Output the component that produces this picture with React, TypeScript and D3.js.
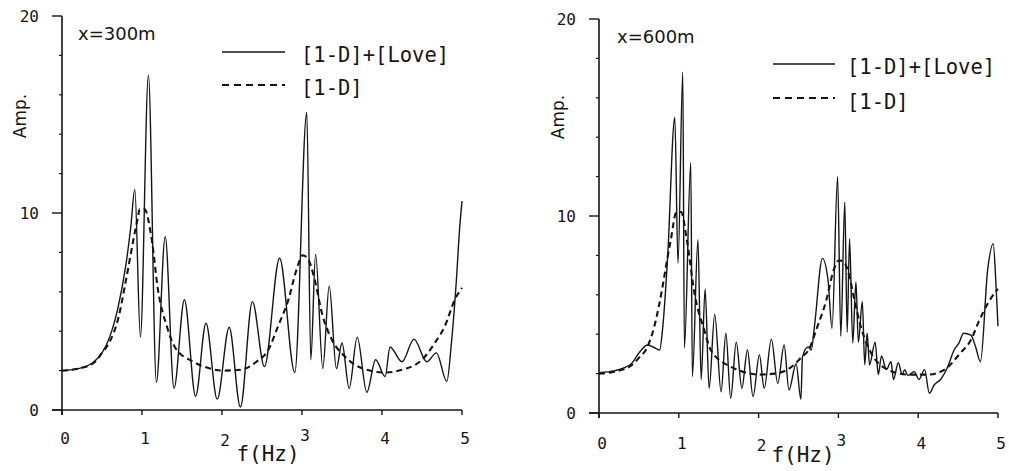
import React from "react";
import * as d3 from "d3";

// amplitude spectra, [f (Hz), amp]
const love300: [number, number][] = [
  [0, 2.0], [0.2, 2.1], [0.4, 2.45], [0.5, 2.9], [0.6, 3.75], [0.7, 5.2], [0.8, 7.4],
  [0.86, 9.3], [0.91, 11.2], [0.98, 3.7], [1.08, 17.0], [1.18, 1.4], [1.29, 8.8],
  [1.4, 1.1], [1.53, 5.6], [1.67, 0.7], [1.8, 4.4], [1.94, 0.55], [2.09, 4.2],
  [2.23, 0.15], [2.38, 5.5], [2.53, 2.2], [2.72, 7.7], [2.91, 1.9], [3.06, 15.1],
  [3.11, 2.55], [3.17, 7.9], [3.26, 2.1], [3.34, 6.3], [3.43, 2.1], [3.5, 3.4],
  [3.59, 1.1], [3.69, 3.7], [3.81, 0.9], [3.92, 2.55], [4.04, 1.7], [4.1, 3.2],
  [4.25, 2.45], [4.4, 3.6], [4.56, 2.45], [4.68, 2.9], [4.81, 1.45], [4.87, 3.5],
  [4.93, 6.6], [4.97, 9.2], [5.0, 10.6],
];

const oneD300: [number, number][] = [
  [0, 2.0], [0.2, 2.1], [0.4, 2.4], [0.5, 2.9], [0.6, 3.5], [0.7, 4.6], [0.8, 6.6],
  [0.9, 8.8], [0.95, 9.8], [0.97, 10.2], [1.03, 10.2], [1.12, 8.7], [1.2, 6.1],
  [1.31, 4.25], [1.41, 3.2], [1.64, 2.45], [1.83, 2.13], [2.0, 2.0], [2.23, 2.04],
  [2.43, 2.45], [2.58, 3.06], [2.7, 4.25], [2.83, 5.6], [2.93, 7.1], [3.01, 7.85],
  [3.07, 7.7], [3.16, 6.6], [3.25, 4.9], [3.37, 3.6], [3.54, 2.7], [3.75, 2.12],
  [4.04, 1.9], [4.25, 2.04], [4.5, 2.55], [4.66, 3.4], [4.79, 4.3], [4.91, 5.6],
  [5.0, 6.2],
];

const love600: [number, number][] = [
  [0, 2.05], [0.2, 2.15], [0.405, 2.5], [0.51, 3.1], [0.61, 3.45], [0.68, 3.35],
  [0.76, 3.2], [0.8, 4.4], [0.86, 7.9], [0.95, 15.0], [0.99, 7.6], [1.05, 17.3],
  [1.07, 3.3], [1.15, 12.7], [1.17, 1.85], [1.24, 8.8], [1.28, 1.7], [1.33, 6.3],
  [1.38, 1.25], [1.45, 5.0], [1.53, 1.08], [1.59, 4.05], [1.65, 0.75], [1.72, 3.6],
  [1.79, 1.25], [1.86, 3.2], [1.93, 0.83], [2.01, 2.95], [2.07, 1.25], [2.16, 3.75],
  [2.24, 1.5], [2.32, 3.45], [2.38, 1.17], [2.47, 2.5], [2.53, 0.7], [2.55, 2.85],
  [2.62, 3.35], [2.66, 3.2], [2.7, 4.4], [2.8, 7.85], [2.87, 6.75], [2.92, 4.3],
  [2.99, 12.0], [3.03, 3.9], [3.08, 10.7], [3.11, 4.1], [3.14, 8.85], [3.18, 3.55],
  [3.22, 6.65], [3.25, 3.6], [3.3, 5.65], [3.33, 2.45], [3.36, 4.05], [3.39, 2.45],
  [3.46, 3.6], [3.5, 1.95], [3.54, 2.9], [3.6, 2.2], [3.66, 2.6], [3.69, 1.7],
  [3.75, 2.55], [3.8, 1.95], [3.83, 2.2], [3.87, 1.9], [3.95, 2.1], [4.01, 1.7],
  [4.08, 2.2], [4.14, 1.0], [4.2, 1.42], [4.28, 1.7], [4.37, 2.35], [4.45, 3.2],
  [4.51, 3.55], [4.57, 4.05], [4.66, 3.95], [4.72, 3.35], [4.78, 2.6], [4.87, 7.25],
  [4.94, 8.6], [4.975, 6.5], [5.0, 4.4],
];

const oneD600: [number, number][] = [
  [0, 2.0], [0.2, 2.1], [0.4, 2.4], [0.5, 2.8], [0.6, 3.3], [0.7, 4.5], [0.8, 6.5],
  [0.85, 7.7], [0.9, 8.8], [0.97, 10.2], [1.03, 10.2], [1.1, 8.8], [1.2, 6.0],
  [1.32, 4.2], [1.4, 3.2], [1.65, 2.35], [1.8, 2.1], [2.0, 1.95], [2.2, 2.0],
  [2.4, 2.3], [2.53, 2.8], [2.64, 3.3], [2.72, 4.2], [2.85, 5.75], [2.94, 7.25],
  [3.01, 7.75], [3.08, 7.6], [3.14, 6.9], [3.2, 5.75], [3.28, 4.4], [3.41, 3.05],
  [3.62, 2.2], [3.87, 1.95], [4.12, 1.95], [4.33, 2.2], [4.53, 3.05], [4.66, 3.7],
  [4.76, 4.65], [4.87, 5.55], [4.97, 6.15], [5.0, 6.3],
];

const xTicks = [0, 1, 2, 3, 4, 5];
const xTickLabels = ["0", "1", "2", "3", "4", "5"];
const xTickDy = [0, 0, 2, -3, 0, 0];
const yMajorTicks = [0, 10, 20];
const yMinorTicks = [2, 4, 6, 8, 12, 14, 16, 18];
const legendLabels = ["[1-D]+[Love]", "[1-D]"];

const INK = "#151515";
const MONO = "'DejaVu Sans Mono', monospace";
const SANS = "'DejaVu Sans', sans-serif";

type PanelProps = {
  title: string;
  love: [number, number][];
  oneD: [number, number][];
  xr: [number, number];
  yr: [number, number];
  titlePos: [number, number];
  ampPos: [number, number];
  legend: { x1: number; x2: number; y1: number; y2: number; tx: number; t1: number; t2: number };
  fPos: [number, number];
  tickBase: number;
};

const Panel = ({ title, love, oneD, xr, yr, titlePos, ampPos, legend, fPos, tickBase }: PanelProps) => {
  const x = d3.scaleLinear().domain([0, 5]).range(xr);
  const y = d3.scaleLinear().domain([0, 20]).range(yr);
  const line = d3
    .line<[number, number]>()
    .x((d) => x(d[0]))
    .y((d) => y(d[1]))
    .curve(d3.curveMonotoneX);

  return (
    <g>
      {/* axes */}
      <line x1={x(0)} x2={x(0)} y1={y(20)} y2={y(0) + 5} stroke={INK} strokeWidth={1.6} />
      <line x1={x(0) - 10} x2={x(5)} y1={y(0)} y2={y(0)} stroke={INK} strokeWidth={1.6} />
      {yMajorTicks.map((t) => (
        <g key={"ym" + t}>
          <line x1={x(0) - 10} x2={x(0)} y1={y(t)} y2={y(t)} stroke={INK} strokeWidth={1.4} />
          <text x={x(0) - 23} y={y(t) + 6} textAnchor="end" fontFamily={MONO} fontSize={16} fill={INK}>
            {t}
          </text>
        </g>
      ))}
      {yMinorTicks.map((t) => (
        <line key={"yn" + t} x1={x(0) - 3} x2={x(0)} y1={y(t)} y2={y(t)} stroke={INK} strokeWidth={1.2} />
      ))}
      {xTicks.map((t, i) => (
        <g key={"x" + t}>
          <line x1={x(t)} x2={x(t)} y1={y(0)} y2={y(0) + 5} stroke={INK} strokeWidth={1.4} />
          <text x={x(t) + 3} y={tickBase + xTickDy[i]} textAnchor="middle" fontFamily={MONO} fontSize={16} fill={INK}>
            {xTickLabels[i]}
          </text>
        </g>
      ))}

      {/* curves */}
      <path d={line(oneD) ?? ""} fill="none" stroke={INK} strokeWidth={2.1} strokeDasharray="6,4" />
      <path d={line(love) ?? ""} fill="none" stroke={INK} strokeWidth={1.4} />

      {/* labels */}
      <text x={titlePos[0]} y={titlePos[1]} fontFamily={SANS} fontSize={18} fill={INK}>
        {title}
      </text>
      <text
        transform={`translate(${ampPos[0]},${ampPos[1]}) rotate(-90)`}
        textAnchor="middle"
        fontFamily={SANS}
        fontSize={17}
        fill={INK}
      >
        Amp.
      </text>
      <text x={fPos[0]} y={fPos[1]} textAnchor="middle" fontFamily={MONO} fontSize={21} fill={INK}>
        f(Hz)
      </text>

      {/* legend */}
      <line x1={legend.x1} x2={legend.x2} y1={legend.y1} y2={legend.y1} stroke={INK} strokeWidth={1.5} />
      <line x1={legend.x1} x2={legend.x2} y1={legend.y2} y2={legend.y2} stroke={INK} strokeWidth={2} strokeDasharray="7,5" />
      <text x={legend.tx} y={legend.t1} fontFamily={MONO} fontSize={20.5} fill={INK}>
        {legendLabels[0]}
      </text>
      <text x={legend.tx} y={legend.t2} fontFamily={MONO} fontSize={20.5} fill={INK}>
        {legendLabels[1]}
      </text>
    </g>
  );
};

export default function App() {
  return (
    <svg
      width={1009}
      height={471}
      style={{ position: "absolute", left: 0, top: 0, background: "#fff" }}
    >
      <Panel
        title="x=300m"
        love={love300}
        oneD={oneD300}
        xr={[62, 462]}
        yr={[410, 16]}
        titlePos={[78, 40]}
        ampPos={[26, 116]}
        legend={{ x1: 222, x2: 285, y1: 52, y2: 85, tx: 301, t1: 62, t2: 95 }}
        fPos={[268, 461]}
        tickBase={444}
      />
      <Panel
        title="x=600m"
        love={love600}
        oneD={oneD600}
        xr={[599, 998]}
        yr={[413, 19]}
        titlePos={[617, 43]}
        ampPos={[564, 117]}
        legend={{ x1: 773, x2: 835, y1: 64, y2: 98, tx: 847, t1: 74, t2: 109 }}
        fPos={[803, 462]}
        tickBase={449}
      />
    </svg>
  );
}
